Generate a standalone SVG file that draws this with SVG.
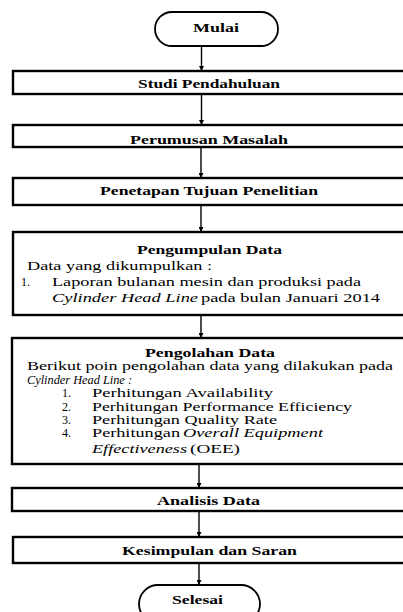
<svg xmlns="http://www.w3.org/2000/svg" width="403" height="612" viewBox="0 0 403 612" font-family="Liberation Serif, DejaVu Serif, serif">
<style>
.box{fill:#fff;stroke:#000;stroke-width:2.4}
.term{fill:#fff;stroke:#000;stroke-width:1.8}
text{font-size:12px;fill:#000}
.b{font-weight:bold;font-size:13px}
.i{font-style:italic}
.c{stroke:#000;stroke-width:1.4;fill:none;marker-end:url(#ah)}
</style>
<defs>
<marker id="ah" viewBox="0 0 6 6" refX="6" refY="3" markerWidth="5" markerHeight="5" markerUnits="userSpaceOnUse" orient="auto">
<path d="M0,0 L6,3 L0,6 z" fill="#000"/>
</marker>
</defs>
<rect width="403" height="612" fill="#fff"/>
<g id="connectors">
<line class="c" x1="201.5" y1="46" x2="201.5" y2="71"/>
<line class="c" x1="201.5" y1="94" x2="201.5" y2="125"/>
<line class="c" x1="201" y1="147" x2="201" y2="178"/>
<line class="c" x1="201" y1="205" x2="201" y2="232"/>
<line class="c" x1="201" y1="315" x2="201" y2="338"/>
<line class="c" x1="199" y1="464" x2="199" y2="488"/>
<line class="c" x1="199" y1="511" x2="199" y2="537"/>
<line class="c" x1="199" y1="563" x2="199" y2="585"/>
</g>
<g id="mulai">
<rect class="term" x="155" y="12" width="123" height="34" rx="17"/>
<text class="b" x="193" y="32" textLength="46" lengthAdjust="spacingAndGlyphs">Mulai</text>
</g>
<g id="studi">
<rect class="box" x="13" y="71" width="400" height="23"/>
<text class="b" x="138" y="88" textLength="142" lengthAdjust="spacingAndGlyphs">Studi Pendahuluan</text>
</g>
<g id="perumusan">
<rect class="box" x="13" y="125" width="400" height="22"/>
<text class="b" x="130" y="144" textLength="158" lengthAdjust="spacingAndGlyphs">Perumusan Masalah</text>
</g>
<g id="penetapan">
<rect class="box" x="13" y="178" width="400" height="27"/>
<text class="b" x="100" y="195" textLength="218" lengthAdjust="spacingAndGlyphs">Penetapan Tujuan Penelitian</text>
</g>
<g id="pengumpulan">
<rect class="box" x="13" y="232" width="400" height="83"/>
<text class="b" x="137" y="254" textLength="145" lengthAdjust="spacingAndGlyphs">Pengumpulan Data</text>
<text x="27" y="270" textLength="185" lengthAdjust="spacingAndGlyphs">Data yang dikumpulkan :</text>
<text x="21" y="286">1.</text>
<text x="52" y="286" textLength="309" lengthAdjust="spacingAndGlyphs">Laporan bulanan mesin dan produksi pada</text>
<text class="i" x="52" y="302" textLength="146" lengthAdjust="spacingAndGlyphs">Cylinder Head  Line</text>
<text x="201" y="302" textLength="179" lengthAdjust="spacingAndGlyphs">pada bulan Januari 2014</text>
</g>
<g id="pengolahan">
<rect class="box" x="12" y="338" width="400" height="126"/>
<text class="b" x="145" y="357" textLength="130" lengthAdjust="spacingAndGlyphs">Pengolahan Data</text>
<text x="27" y="370" textLength="366" lengthAdjust="spacingAndGlyphs">Berikut poin pengolahan data yang dilakukan pada</text>
<text class="i" x="27" y="384" textLength="105" lengthAdjust="spacingAndGlyphs">Cylinder Head Line :</text>
<text x="62" y="397">1.</text>
<text x="92" y="397" textLength="181" lengthAdjust="spacingAndGlyphs">Perhitungan Availability</text>
<text x="62" y="411">2.</text>
<text x="92" y="411" textLength="260" lengthAdjust="spacingAndGlyphs">Perhitungan Performance Efficiency</text>
<text x="62" y="424">3.</text>
<text x="92" y="424" textLength="185" lengthAdjust="spacingAndGlyphs">Perhitungan Quality Rate</text>
<text x="62" y="437">4.</text>
<text x="92" y="437" textLength="88" lengthAdjust="spacingAndGlyphs">Perhitungan</text>
<text class="i" x="183" y="437" textLength="140" lengthAdjust="spacingAndGlyphs">Overall Equipment</text>
<text class="i" x="92" y="453" textLength="95" lengthAdjust="spacingAndGlyphs">Effectiveness</text>
<text x="190" y="453" textLength="50" lengthAdjust="spacingAndGlyphs">(OEE)</text>
</g>
<g id="analisis">
<rect class="box" x="12" y="488" width="400" height="23"/>
<text class="b" x="157" y="505" textLength="103" lengthAdjust="spacingAndGlyphs">Analisis Data</text>
</g>
<g id="kesimpulan">
<rect class="box" x="13" y="537" width="400" height="26"/>
<text class="b" x="122" y="555" textLength="175" lengthAdjust="spacingAndGlyphs">Kesimpulan dan Saran</text>
</g>
<g id="selesai">
<rect class="term" x="139" y="585" width="121" height="38" rx="19"/>
<text class="b" x="172" y="604" textLength="51" lengthAdjust="spacingAndGlyphs">Selesai</text>
</g>
</svg>
